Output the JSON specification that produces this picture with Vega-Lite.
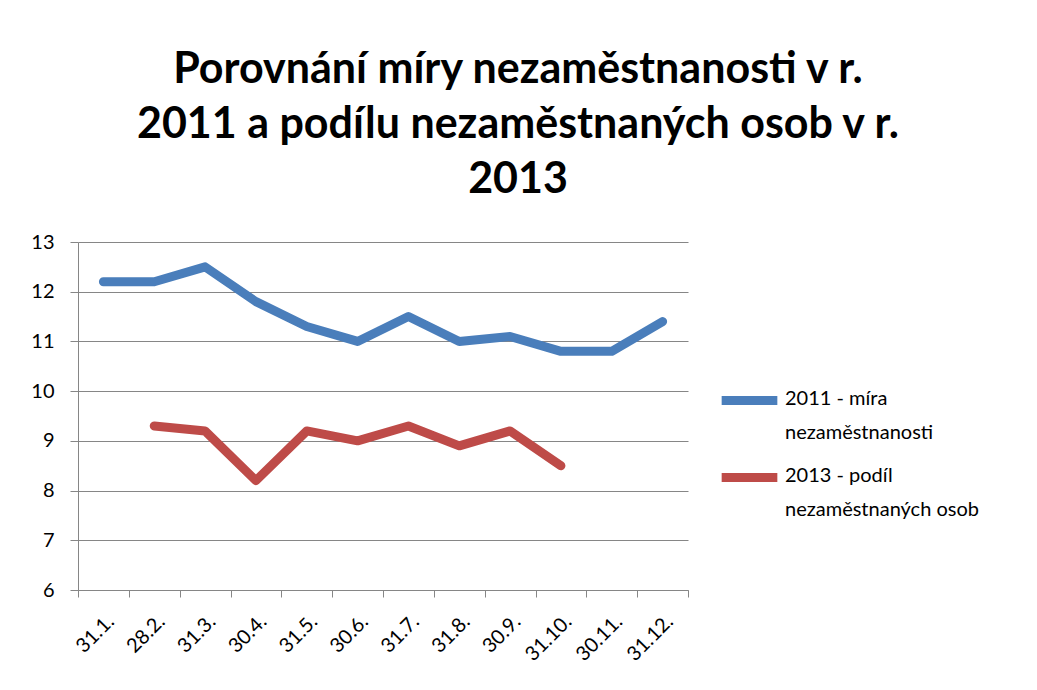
{
  "$schema": "https://vega.github.io/schema/vega-lite/v6.json",
  "autosize": "none",
  "width": 610,
  "height": 348,
  "padding": {"left": 78, "top": 242, "right": 349, "bottom": 100},
  "background": "white",
  "title": {
    "text": ["Porovnání míry nezaměstnanosti v r.", "2011 a podílu nezaměstnaných osob v r.", "2013"],
    "font": "Lato",
    "fontSize": 43,
    "fontWeight": "bold",
    "color": "#000000",
    "lineHeight": 55,
    "anchor": "middle",
    "frame": "group",
    "dx": 135,
    "offset": 30
  },
  "data": {
    "values": [
      {"datum": "31.1.", "serie": "2011 - míra nezaměstnanosti", "hodnota": 12.2},
      {"datum": "28.2.", "serie": "2011 - míra nezaměstnanosti", "hodnota": 12.2},
      {"datum": "31.3.", "serie": "2011 - míra nezaměstnanosti", "hodnota": 12.5},
      {"datum": "30.4.", "serie": "2011 - míra nezaměstnanosti", "hodnota": 11.8},
      {"datum": "31.5.", "serie": "2011 - míra nezaměstnanosti", "hodnota": 11.3},
      {"datum": "30.6.", "serie": "2011 - míra nezaměstnanosti", "hodnota": 11.0},
      {"datum": "31.7.", "serie": "2011 - míra nezaměstnanosti", "hodnota": 11.5},
      {"datum": "31.8.", "serie": "2011 - míra nezaměstnanosti", "hodnota": 11.0},
      {"datum": "30.9.", "serie": "2011 - míra nezaměstnanosti", "hodnota": 11.1},
      {"datum": "31.10.", "serie": "2011 - míra nezaměstnanosti", "hodnota": 10.8},
      {"datum": "30.11.", "serie": "2011 - míra nezaměstnanosti", "hodnota": 10.8},
      {"datum": "31.12.", "serie": "2011 - míra nezaměstnanosti", "hodnota": 11.4},
      {"datum": "28.2.", "serie": "2013 - podíl nezaměstnaných osob", "hodnota": 9.3},
      {"datum": "31.3.", "serie": "2013 - podíl nezaměstnaných osob", "hodnota": 9.2},
      {"datum": "30.4.", "serie": "2013 - podíl nezaměstnaných osob", "hodnota": 8.2},
      {"datum": "31.5.", "serie": "2013 - podíl nezaměstnaných osob", "hodnota": 9.2},
      {"datum": "30.6.", "serie": "2013 - podíl nezaměstnaných osob", "hodnota": 9.0},
      {"datum": "31.7.", "serie": "2013 - podíl nezaměstnaných osob", "hodnota": 9.3},
      {"datum": "31.8.", "serie": "2013 - podíl nezaměstnaných osob", "hodnota": 8.9},
      {"datum": "30.9.", "serie": "2013 - podíl nezaměstnaných osob", "hodnota": 9.2},
      {"datum": "31.10.", "serie": "2013 - podíl nezaměstnaných osob", "hodnota": 8.5}
    ]
  },
  "mark": {"type": "line", "strokeWidth": 9, "strokeCap": "round", "strokeJoin": "round"},
  "encoding": {
    "x": {
      "field": "datum",
      "type": "nominal",
      "sort": ["31.1.", "28.2.", "31.3.", "30.4.", "31.5.", "30.6.", "31.7.", "31.8.", "30.9.", "31.10.", "30.11.", "31.12."],
      "scale": {"type": "band", "paddingInner": 0, "paddingOuter": 0},
      "axis": {
        "title": null,
        "tickBand": "extent",
        "labelAngle": -45,
        "labelFont": "Lato",
        "labelFontSize": 20,
        "labelColor": "#000000",
        "labelPadding": 14,
        "domainColor": "#868686",
        "tickColor": "#868686",
        "tickSize": 7,
        "grid": false
      }
    },
    "y": {
      "field": "hodnota",
      "type": "quantitative",
      "scale": {"domain": [6, 13], "nice": false, "zero": false},
      "axis": {
        "title": null,
        "values": [6, 7, 8, 9, 10, 11, 12, 13],
        "labelFont": "Lato",
        "labelFontSize": 20,
        "labelColor": "#000000",
        "labelPadding": 16,
        "domainColor": "#868686",
        "tickColor": "#868686",
        "tickSize": 8,
        "grid": true,
        "gridColor": "#868686",
        "gridOpacity": 1
      }
    },
    "color": {
      "field": "serie",
      "type": "nominal",
      "scale": {"domain": ["2011 - míra nezaměstnanosti", "2013 - podíl nezaměstnaných osob"], "range": ["#4A7EBB", "#BE4B48"]},
      "legend": {
        "title": null,
        "orient": "none",
        "legendX": 639,
        "legendY": 126,
        "symbolType": "stroke",
        "symbolSize": 3100,
        "symbolStrokeWidth": 9,
        "labelFont": "Lato",
        "labelFontSize": 20,
        "labelColor": "#000000",
        "labelLimit": 400,
        "labelOffset": 3,
        "labelBaseline": "top",
        "rowPadding": 2,
        "labelExpr": "datum.label == '2011 - míra nezaměstnanosti' ? ['2011 - míra', 'nezaměstnanosti'] : ['2013 - podíl', 'nezaměstnaných osob']",
        "encode": {
          "labels": {"update": {"lineHeight": {"value": 34}, "dy": {"value": -12}}}
        }
      }
    }
  },
  "config": {
    "view": {"stroke": null}
  }
}
